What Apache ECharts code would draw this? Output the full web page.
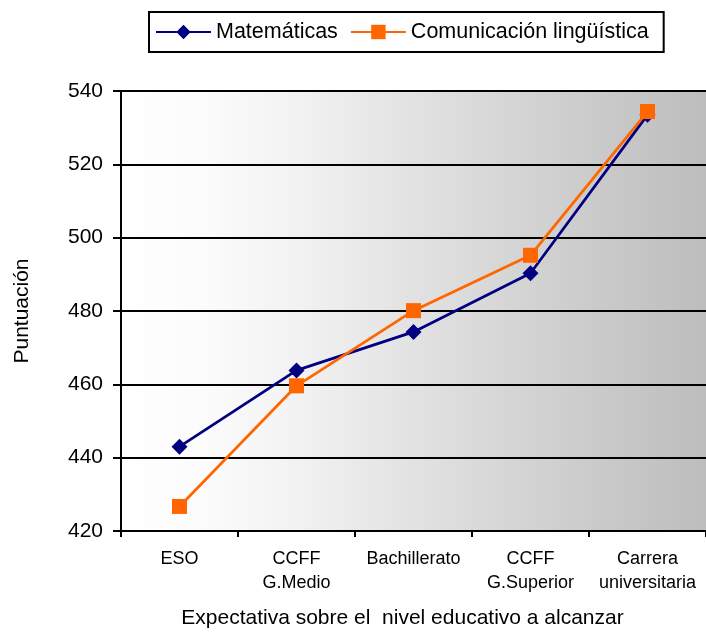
<!DOCTYPE html>
<html>
<head>
<meta charset="utf-8">
<script src="https://cdn.jsdelivr.net/npm/echarts@6/dist/echarts.min.js"></script>
<style>
  html, body { margin: 0; padding: 0; background: #ffffff; }
  #chart { width: 706px; height: 634px; }
</style>
</head>
<body>
<div id="chart"></div>
<script>
// Expected educational level (categories)
var categories = ['ESO', 'CCFF\nG.Medio', 'Bachillerato', 'CCFF\nG.Superior', 'Carrera\nuniversitaria'];
// Mean scores per category
var matematicas = [443.0, 463.8, 474.3, 490.3, 533.5];
var comunicacion = [426.7, 459.6, 480.1, 495.2, 534.4];
// Score axis ticks
var yMin = 420, yMax = 540, yStep = 20;

var FONT = '"Liberation Sans", Arial, sans-serif';

var chart = echarts.init(document.getElementById('chart'), null, { renderer: 'canvas' });

chart.setOption({
  animation: false,
  textStyle: { fontFamily: FONT, color: '#000' },
  legend: {
    left: 149,
    top: 12,
    padding: [9, 15, 9, 6],
    itemWidth: 55,
    itemHeight: 18,
    itemGap: 12,
    borderColor: '#000',
    borderWidth: 2,
    backgroundColor: '#fff',
    textStyle: { fontFamily: FONT, fontSize: 21.5, color: '#000' },
    data: ['Matemáticas', 'Comunicación lingüística']
  },
  grid: {
    left: 121,
    top: 91,
    width: 589,
    height: 441,
    show: true,
    borderWidth: 0,
    backgroundColor: new echarts.graphic.LinearGradient(0, 0, 1, 0, [
      { offset: 0, color: '#ffffff' },
      { offset: 0.15, color: '#fbfbfb' },
      { offset: 0.3, color: '#f2f2f2' },
      { offset: 0.5, color: '#e2e2e2' },
      { offset: 0.75, color: '#cfcfcf' },
      { offset: 1, color: '#bdbdbd' }
    ])
  },
  xAxis: {
    type: 'category',
    data: categories,
    boundaryGap: true,
    name: 'Expectativa sobre el  nivel educativo a alcanzar',
    nameLocation: 'middle',
    nameGap: 77,
    nameTextStyle: { fontFamily: FONT, fontSize: 21, color: '#000', padding: [0, 22, 0, 0] },
    axisLine: { show: true, lineStyle: { color: '#000', width: 2 } },
    axisTick: { show: true, length: 6, lineStyle: { color: '#000', width: 2 } },
    axisLabel: { fontFamily: FONT, fontSize: 18, lineHeight: 24, color: '#000', margin: 16, interval: 0 },
    splitLine: { show: false }
  },
  yAxis: {
    type: 'value',
    min: yMin,
    max: yMax,
    interval: yStep,
    name: 'Puntuación',
    nameLocation: 'middle',
    nameGap: 88,
    nameRotate: 90,
    nameTextStyle: { fontFamily: FONT, fontSize: 21, color: '#000' },
    axisLine: { show: true, lineStyle: { color: '#000', width: 2 } },
    axisTick: { show: true, length: 8, lineStyle: { color: '#000', width: 2 } },
    axisLabel: { fontFamily: FONT, fontSize: 21, color: '#000', margin: 18 },
    splitLine: { show: true, lineStyle: { color: '#000', width: 2 } }
  },
  series: [
    {
      name: 'Matemáticas',
      type: 'line',
      data: matematicas,
      symbol: 'diamond',
      symbolSize: 16,
      z: 3,
      itemStyle: { color: '#000080' },
      lineStyle: { color: '#000080', width: 2.75 }
    },
    {
      name: 'Comunicación lingüística',
      type: 'line',
      data: comunicacion,
      symbol: 'rect',
      symbolSize: 15,
      z: 4,
      itemStyle: { color: '#ff6600' },
      lineStyle: { color: '#ff6600', width: 2.75 }
    }
  ]
});
</script>
</body>
</html>
